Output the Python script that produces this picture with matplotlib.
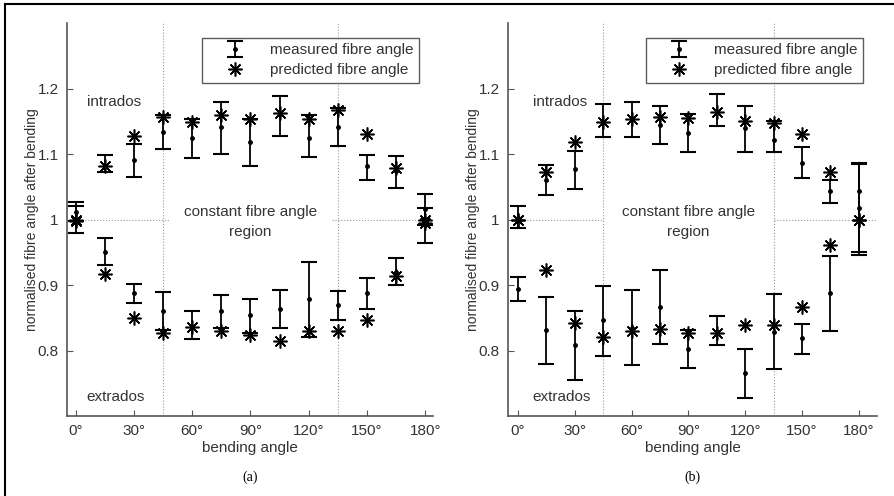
"""
    Normalised fibre angle after bending, measured vs predicted,
    panels (a) and (b).
"""

# ------ Environment Setup ------ #
import matplotlib
matplotlib.use("Agg")
import matplotlib.pyplot as plt
from matplotlib.lines import Line2D


# ------ Data ------ #
angles = [0, 15, 30, 45, 60, 75, 90, 105, 120, 135, 150, 165, 180]
tick_angles = [0, 30, 60, 90, 120, 150, 180]
tick_labels = ["0°", "30°", "60°", "90°", "120°", "150°", "180°"]
y_ticks = [0.8, 0.9, 1.0, 1.1, 1.2]
y_tick_labels = ["0.8", "0.9", "1", "1.1", "1.2"]

# panel (a) - intrados
a_in_mean = [1.012, 1.081, 1.091, 1.134, 1.125, 1.141, 1.119, 1.161, 1.125, 1.141, 1.081, 1.074, 1.016]
a_in_low = [0.998, 1.072, 1.065, 1.108, 1.094, 1.100, 1.082, 1.128, 1.096, 1.112, 1.060, 1.048, 0.992]
a_in_high = [1.027, 1.099, 1.115, 1.160, 1.154, 1.179, 1.154, 1.189, 1.159, 1.170, 1.099, 1.097, 1.039]
a_in_pred = [1.000, 1.081, 1.127, 1.157, 1.149, 1.159, 1.153, 1.163, 1.154, 1.167, 1.130, 1.079, 1.000]

# panel (a) - extrados
a_ex_mean = [1.000, 0.951, 0.888, 0.861, 0.836, 0.860, 0.854, 0.864, 0.878, 0.869, 0.888, 0.920, 0.992]
a_ex_low = [0.979, 0.931, 0.872, 0.832, 0.817, 0.835, 0.827, 0.835, 0.821, 0.847, 0.864, 0.900, 0.964]
a_ex_high = [1.020, 0.971, 0.902, 0.889, 0.860, 0.884, 0.879, 0.893, 0.935, 0.891, 0.911, 0.941, 1.017]
a_ex_pred = [0.998, 0.917, 0.850, 0.827, 0.836, 0.830, 0.823, 0.814, 0.830, 0.830, 0.847, 0.914, 0.995]

# panel (b) - intrados
b_in_mean = [1.002, 1.060, 1.077, 1.149, 1.153, 1.145, 1.132, 1.164, 1.139, 1.122, 1.087, 1.043, 1.043]
b_in_low = [0.987, 1.038, 1.046, 1.126, 1.126, 1.115, 1.103, 1.143, 1.103, 1.103, 1.064, 1.025, 0.950]
b_in_high = [1.021, 1.083, 1.105, 1.176, 1.180, 1.174, 1.161, 1.191, 1.174, 1.151, 1.110, 1.060, 1.086]
b_in_pred = [1.000, 1.073, 1.119, 1.149, 1.153, 1.157, 1.155, 1.164, 1.151, 1.148, 1.131, 1.073, 1.000]

# panel (b) - extrados
b_ex_mean = [0.894, 0.831, 0.808, 0.846, 0.834, 0.867, 0.803, 0.828, 0.766, 0.828, 0.819, 0.888, 1.017]
b_ex_low = [0.876, 0.780, 0.755, 0.792, 0.778, 0.810, 0.773, 0.808, 0.728, 0.771, 0.795, 0.830, 0.946]
b_ex_high = [0.912, 0.881, 0.860, 0.899, 0.893, 0.923, 0.832, 0.853, 0.803, 0.886, 0.841, 0.944, 1.085]
b_ex_pred = [1.000, 0.923, 0.842, 0.820, 0.830, 0.833, 0.827, 0.827, 0.839, 0.839, 0.866, 0.961, 1.000]


# ------ Plotting ------ #
plt.rcParams["font.family"] = ["Liberation Sans", "DejaVu Sans"]
AXIS_GREY = "#555555"
TEXT_GREY = "#333333"
STAR = (8, 2, 0)


def draw_panel(ax, series, xlim, text_x, hline_segments, caption):
    # reference lines
    ax.axvline(45, color="#999999", linestyle=":", linewidth=0.8, zorder=0)
    ax.axvline(135, color="#999999", linestyle=":", linewidth=0.8, zorder=0)
    for x0, x1 in hline_segments:
        ax.plot([x0, x1], [1.0, 1.0], color="#999999", linestyle=":", linewidth=0.8, zorder=0)

    # measured + predicted
    handles = []
    for mean, low, high, pred in series:
        err = [[m - l for m, l in zip(mean, low)], [h - m for m, h in zip(mean, high)]]
        eb = ax.errorbar(angles, mean, yerr=err, fmt=".", color="black", markersize=5,
                         elinewidth=1.3, capsize=6, capthick=1.5, zorder=3)
        st, = ax.plot(angles, pred, linestyle="none", marker=STAR, color="black",
                      markersize=10, markeredgewidth=1.15, zorder=4)
        if not handles:
            handles = [eb, st]

    # axes
    ax.set_xlim(*xlim)
    ax.set_ylim(0.7, 1.3)
    ax.set_xticks(tick_angles)
    ax.set_xticklabels(tick_labels)
    ax.set_yticks(y_ticks)
    ax.set_yticklabels(y_tick_labels)
    ax.tick_params(direction="in", length=4, color=AXIS_GREY, labelcolor=TEXT_GREY,
                   labelsize=11, pad=6)
    for side in ("top", "right"):
        ax.spines[side].set_visible(False)
    for side in ("left", "bottom"):
        ax.spines[side].set_color(AXIS_GREY)
        ax.spines[side].set_linewidth(1.2)

    # labels
    ax.set_xlabel("bending angle", fontsize=11, color=TEXT_GREY, labelpad=2)
    ax.set_ylabel("normalised fibre angle after bending", fontsize=10, color=TEXT_GREY, labelpad=-1)
    ax.text(text_x, 1.179, "intrados", fontsize=11, color=TEXT_GREY, va="center")
    ax.text(text_x, 0.729, "extrados", fontsize=11, color=TEXT_GREY, va="center")
    ax.text(90, 1.012, "constant fibre angle", fontsize=11, color=TEXT_GREY, ha="center", va="center")
    ax.text(90, 0.981, "region", fontsize=11, color=TEXT_GREY, ha="center", va="center")
    ax.text(0.5, -0.155, caption, transform=ax.transAxes, fontsize=10,
            family="Liberation Serif", ha="center", va="center", color="black")

    # legend
    leg = ax.legend(handles, ["measured fibre angle", "predicted fibre angle"],
                    loc="upper right", bbox_to_anchor=(0.962, 0.962), fontsize=11,
                    frameon=True, fancybox=False, handlelength=3.6, handletextpad=0.5,
                    borderpad=0.35, labelspacing=0.4, borderaxespad=0)
    leg.get_frame().set_edgecolor("#333333")
    leg.get_frame().set_linewidth(1.0)
    for t in leg.get_texts():
        t.set_color(TEXT_GREY)


fig = plt.figure(figsize=(8.95, 4.96), dpi=100)
ax_a = fig.add_axes([67 / 895, 80 / 496, 366 / 895, 393 / 496])
ax_b = fig.add_axes([508 / 895, 80 / 496, 369 / 895, 393 / 496])

draw_panel(ax_a,
           [(a_in_mean, a_in_low, a_in_high, a_in_pred), (a_ex_mean, a_ex_low, a_ex_high, a_ex_pred)],
           (-4.5, 184), 5.7, [(0, 48), (132, 184)], "(a)")
draw_panel(ax_b,
           [(b_in_mean, b_in_low, b_in_high, b_in_pred), (b_ex_mean, b_ex_low, b_ex_high, b_ex_pred)],
           (-5.3, 189.6), 7.8, [(0, 45), (135, 189.6)], "(b)")

# outer frame (top and left edges)
fig.add_artist(Line2D([5 / 895, 1.0], [1 - 4 / 496, 1 - 4 / 496], color="black", linewidth=1.5,
                      transform=fig.transFigure))
fig.add_artist(Line2D([5 / 895, 5 / 895], [0.0, 1 - 4 / 496], color="black", linewidth=1.5,
                      transform=fig.transFigure))

plt.savefig("out.png", dpi=100)
